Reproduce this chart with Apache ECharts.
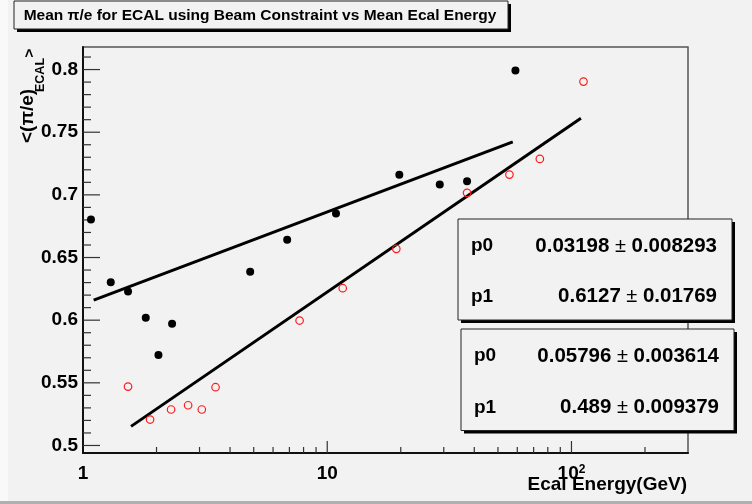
<!DOCTYPE html>
<html>
<head>
<meta charset="utf-8">
<script src="https://cdn.jsdelivr.net/npm/echarts@6/dist/echarts.min.js"></script>
<style>
  html, body { margin: 0; padding: 0; background: #f2f2f2; }
  #chart { width: 752px; height: 504px; }
</style>
</head>
<body>
<div id="chart"></div>
<script>
// Mean ECAL energy (GeV) and mean pi/e, filled-marker sample
const energyFilled = [1.078, 1.299, 1.529, 1.807, 2.037, 2.316, 4.836, 6.855, 10.86, 19.73, 28.89, 37.37, 58.96];
const ratioFilled  = [0.6803, 0.6303, 0.6228, 0.6019, 0.5723, 0.5971, 0.6386, 0.6641, 0.6851, 0.7160, 0.7082, 0.7109, 0.7992];

// Mean ECAL energy (GeV) and mean pi/e, open-marker sample
const energyOpen = [1.529, 1.882, 2.294, 2.694, 3.065, 3.489, 7.706, 11.57, 19.18, 37.37, 55.71, 74.22, 112.0];
const ratioOpen  = [0.5470, 0.5207, 0.5287, 0.5321, 0.5287, 0.5465, 0.5997, 0.6255, 0.6569, 0.7016, 0.7162, 0.7287, 0.7904];

// Fit results: y = p1 + p0 * ln(E)
const fitFilledP0 = [0.03198, 0.008293];
const fitFilledP1 = [0.6127, 0.01769];
const fitOpenP0 = [0.05796, 0.003614];
const fitOpenP1 = [0.489, 0.009379];
const fitFilledRange = [1.106, 57.5];
const fitOpenRange = [1.573, 109.3];

// Axis ranges and ticks
const xRange = [1, 300];
const yRange = [0.494, 0.818];
const xLabelValues = [1, 10, 100];
const xMajorTicks = [10, 100];
const xMinorTicks = [2, 3, 4, 5, 6, 7, 8, 9, 20, 30, 40, 50, 60, 70, 80, 90, 200];
const yLabelValues = [0.5, 0.55, 0.6, 0.65, 0.7, 0.75, 0.8];
const yMinorTicks = [0.51, 0.52, 0.53, 0.54, 0.56, 0.57, 0.58, 0.59, 0.61, 0.62, 0.63, 0.64,
                     0.66, 0.67, 0.68, 0.69, 0.71, 0.72, 0.73, 0.74, 0.76, 0.77, 0.78, 0.79, 0.81];

const FONT = '"Liberation Sans", Arial, Helvetica, sans-serif';

function fitLine(p0, p1, range) {
  return range.map(e => [e, p1[0] + p0[0] * Math.log(e)]);
}

function zip(xs, ys) { return xs.map((x, i) => [x, ys[i]]); }

// tick items: [x, y, length, horizontal?]
const tickItems = []
  .concat(xMajorTicks.map(v => [v, yRange[0], 12, 0]))
  .concat(xMinorTicks.map(v => [v, yRange[0], 6, 0]))
  .concat(yLabelValues.map(v => [xRange[0], v, 17, 1]))
  .concat(yMinorTicks.map(v => [xRange[0], v, 8, 1]));

function near(a, list, eps) { return list.some(b => Math.abs(a - b) < eps); }

function statsBox(x, y, w, h, rows) {
  const els = [
    { type: 'rect', shape: { x: x + 3, y: y + 3, width: w, height: h }, style: { fill: '#000' }, z: 100 },
    { type: 'rect', shape: { x: x, y: y, width: w, height: h }, style: { fill: '#f2f2f2', stroke: '#222', lineWidth: 1 }, z: 101 }
  ];
  rows.forEach(r => {
    els.push({ type: 'text', x: x + 13, y: r.y, z: 102,
      style: { text: r.name, font: 'bold 19px ' + FONT, fill: '#000', align: 'left', verticalAlign: 'middle' } });
    els.push({ type: 'text', x: x + w - 15, y: r.y, z: 102,
      style: { text: '{v|' + r.val + '}{pm| \u00b1 }{v|' + r.err + '}', align: 'right', verticalAlign: 'middle',
        rich: { v: { font: 'bold 20.5px ' + FONT, fill: '#000' }, pm: { font: '20px ' + FONT, fill: '#000' } } } });
  });
  return els;
}

const chart = echarts.init(document.getElementById('chart'), null, { renderer: 'canvas' });

chart.setOption({
  backgroundColor: '#f2f2f2',
  animation: false,
  grid: { left: 83, top: 47, width: 605, height: 406, show: true, borderColor: '#555', borderWidth: 1.5, backgroundColor: 'transparent' },
  xAxis: {
    type: 'log', logBase: 10, min: xRange[0], max: xRange[1],
    axisLine: { onZero: false, lineStyle: { color: '#111', width: 2 } },
    axisTick: { show: false },
    splitLine: { show: false },
    axisLabel: {
      margin: 11, color: '#000', fontFamily: FONT, fontWeight: 'bold', fontSize: 19,
      showMaxLabel: false,
      formatter: v => {
        if (!near(v, xLabelValues, 1e-6 * v)) return '';
        const r = Math.round(v);
        return r === 100 ? '{n|10}{s|2}' : String(r);
      },
      rich: {
        n: { fontFamily: FONT, fontWeight: 'bold', fontSize: 19, color: '#000' },
        s: { fontFamily: FONT, fontWeight: 'bold', fontSize: 12, color: '#000', verticalAlign: 'top' }
      }
    }
  },
  yAxis: {
    type: 'value', min: yRange[0], max: yRange[1], minInterval: 0.05, maxInterval: 0.05,
    axisLine: { show: true, lineStyle: { color: '#111', width: 2 } },
    axisTick: { show: false },
    splitLine: { show: false },
    axisLabel: {
      margin: 5, color: '#000', fontFamily: FONT, fontWeight: 'bold', fontSize: 19,
      showMinLabel: false, showMaxLabel: false,
      formatter: v => near(v, yLabelValues, 1e-6) ? String(Math.round(v * 100) / 100) : ''
    }
  },
  series: [
    {
      type: 'custom', name: 'ticks', silent: true, clip: false,
      encode: { x: 0, y: 1 },
      data: tickItems,
      renderItem: (params, api) => {
        const p = api.coord([api.value(0), api.value(1)]);
        const len = api.value(2);
        const horiz = api.value(3) === 1;
        return {
          type: 'line',
          shape: horiz ? { x1: p[0], y1: p[1], x2: p[0] + len, y2: p[1] }
                       : { x1: p[0], y1: p[1], x2: p[0], y2: p[1] - len },
          style: { stroke: '#333', lineWidth: 1.2 }
        };
      },
      z: 3
    },
    {
      type: 'line', name: 'fit filled', data: fitLine(fitFilledP0, fitFilledP1, fitFilledRange),
      symbol: 'none', lineStyle: { color: '#000', width: 3 }, z: 4
    },
    {
      type: 'line', name: 'fit open', data: fitLine(fitOpenP0, fitOpenP1, fitOpenRange),
      symbol: 'none', lineStyle: { color: '#000', width: 3 }, z: 4
    },
    {
      type: 'scatter', name: 'filled', data: zip(energyFilled, ratioFilled),
      symbol: 'circle', symbolSize: 8, itemStyle: { color: '#000', opacity: 1 }, z: 5
    },
    {
      type: 'scatter', name: 'open', data: zip(energyOpen, ratioOpen),
      symbol: 'circle', symbolSize: 7.5,
      itemStyle: { color: 'rgba(0,0,0,0)', borderColor: '#ff1a1a', borderWidth: 1.2, opacity: 1 }, z: 5
    }
  ],
  graphic: [
    // canvas edges
    { type: 'rect', shape: { x: 0, y: 0, width: 8, height: 504 }, style: { fill: '#f9f9f9' }, z: 1 },
    { type: 'rect', shape: { x: 0, y: 501, width: 752, height: 3 }, style: { fill: '#b0b0b0' }, z: 1 },
    // title box
    { type: 'rect', shape: { x: 17, y: 4, width: 494, height: 28 }, style: { fill: '#000' }, z: 100 },
    { type: 'rect', shape: { x: 14, y: 1, width: 494, height: 28 }, style: { fill: '#f2f2f2', stroke: '#222', lineWidth: 1 }, z: 101 },
    { type: 'text', x: 260, y: 16, z: 102,
      style: { text: 'Mean \u03c0/e for ECAL using Beam Constraint vs Mean Ecal Energy', font: 'bold 15.5px ' + FONT,
        fill: '#000', align: 'center', verticalAlign: 'middle' } },
    // axis titles
    { type: 'text', x: 687, y: 485, z: 102,
      style: { text: 'Ecal Energy(GeV)', font: 'bold 19px ' + FONT, fill: '#000', align: 'right', verticalAlign: 'middle' } },
    { type: 'text', x: 28, y: 143, rotation: Math.PI / 2, z: 102,
      style: { text: '<(\u03c0/e)', font: 'bold 19px ' + FONT, fill: '#000', align: 'left', verticalAlign: 'middle' } },
    { type: 'text', x: 41, y: 92, rotation: Math.PI / 2, z: 102,
      style: { text: 'ECAL', font: 'bold 12.5px ' + FONT, fill: '#000', align: 'left', verticalAlign: 'middle' } },
    { type: 'text', x: 29.5, y: 57.5, rotation: Math.PI / 2, z: 102,
      style: { text: '>', font: 'bold 15px ' + FONT, fill: '#000', align: 'left', verticalAlign: 'middle' } }
  ]
  .concat(statsBox(458, 219, 274, 101, [
    { name: 'p0', val: String(fitFilledP0[0]), err: String(fitFilledP0[1]), y: 246 },
    { name: 'p1', val: String(fitFilledP1[0]), err: String(fitFilledP1[1]), y: 296.5 }
  ]))
  .concat(statsBox(461, 329, 273, 101.5, [
    { name: 'p0', val: String(fitOpenP0[0]), err: String(fitOpenP0[1]), y: 356 },
    { name: 'p1', val: String(fitOpenP1[0]), err: String(fitOpenP1[1]), y: 407.5 }
  ]))
});
</script>
</body>
</html>
